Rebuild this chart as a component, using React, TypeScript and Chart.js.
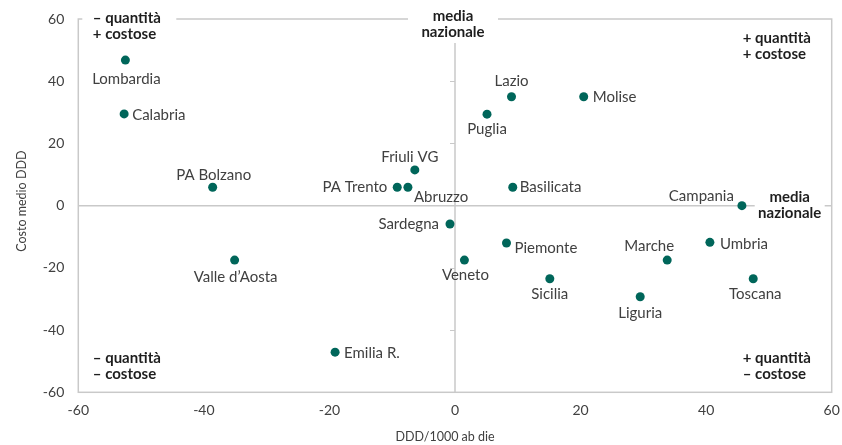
import React, { useEffect, useRef } from 'react';
import { Chart, registerables } from 'chart.js';

Chart.register(...registerables);

// ---- data ----
const regions = [
  'Lombardia', 'Calabria', 'PA Bolzano', 'Valle d’Aosta', 'Emilia R.', 'Friuli VG', 'PA Trento',
  'Abruzzo', 'Basilicata', 'Sardegna', 'Piemonte', 'Veneto', 'Sicilia', 'Campania', 'Umbria',
  'Marche', 'Toscana', 'Liguria', 'Lazio', 'Molise', 'Puglia',
];
const dddPer1000 = [
  -52.5, -52.7, -38.6, -35.1, -19.1, -6.4, -9.2,
  -7.5, 9.2, -0.8, 8.2, 1.5, 15.1, 45.7, 40.6,
  33.8, 47.5, 29.5, 9.0, 20.5, 5.1,
];
const costoMedio = [
  46.8, 29.5, 5.9, -17.5, -47.1, 11.5, 5.9,
  5.9, 5.9, -5.9, -12.0, -17.5, -23.5, 0.0, -11.8,
  -17.5, -23.5, -29.3, 35.0, 35.0, 29.4,
];
const axisMin = -60;
const axisMax = 60;
const tickStep = 20;
const xTitle = 'DDD/1000 ab die';
const yTitle = 'Costo medio DDD';

// label placement relative to each point: [textAlign, dx, dy]
const labelPlacement: Record<string, [CanvasTextAlign, number, number]> = {
  'Lombardia': ['center', 1, 19],
  'Calabria': ['left', 8, 1],
  'PA Bolzano': ['center', 1, -12],
  'Valle d’Aosta': ['center', 1, 17],
  'Emilia R.': ['left', 9, 1],
  'Friuli VG': ['center', -5, -13],
  'PA Trento': ['right', -10, 0],
  'Abruzzo': ['left', 6, 10],
  'Basilicata': ['left', 7, 0],
  'Sardegna': ['right', -11, 0],
  'Piemonte': ['left', 8, 5],
  'Veneto': ['center', 1, 15],
  'Sicilia': ['center', 0, 15],
  'Campania': ['right', -8, -9],
  'Umbria': ['left', 10, 2],
  'Marche': ['center', -18, -14],
  'Toscana': ['center', 2, 15],
  'Liguria': ['center', 0, 16],
  'Lazio': ['center', 0, -16],
  'Molise': ['left', 9, 0],
  'Puglia': ['center', 0, 15],
};

const FONT = 'Lato, "Open Sans", sans-serif';
const TEXT = '#404040';
const BOLD_TEXT = '#1e1e1e';
const LINE = '#c9c9c9';
const DOT = '#00665a';

const quadrantPlugin = {
  id: 'quadrants',
  beforeDatasetsDraw(chart: any) {
    const { ctx, chartArea: ca, scales } = chart;
    const xs = scales.x;
    const ys = scales.y;
    const x0 = xs.getPixelForValue(0);
    const y0 = ys.getPixelForValue(0);
    ctx.save();
    ctx.strokeStyle = LINE;
    ctx.lineWidth = 1.5;
    // frame
    ctx.strokeRect(ca.left, ca.top, ca.right - ca.left, ca.bottom - ca.top);
    // zero lines
    ctx.beginPath();
    ctx.moveTo(x0, ca.top);
    ctx.lineTo(x0, ca.bottom);
    ctx.moveTo(ca.left, y0);
    ctx.lineTo(ca.right, y0);
    ctx.stroke();
    // small tick marks on the vertical zero line
    ctx.lineWidth = 1;
    ctx.beginPath();
    for (let v = axisMin + tickStep; v < axisMax; v += tickStep) {
      if (v === 0) continue;
      const py = Math.round(ys.getPixelForValue(v)) + 0.5;
      ctx.moveTo(x0 - 5, py);
      ctx.lineTo(x0, py);
    }
    ctx.stroke();

    // white boxes behind annotations
    ctx.fillStyle = '#ffffff';
    ctx.fillRect(ca.left + 4, ca.top - 12, 94, 54);
    ctx.fillRect(x0 - 47, ca.top - 19, 90, 43);
    ctx.fillRect(ca.right - 77, y0 - 18, 70, 38);

    // annotation texts
    ctx.fillStyle = BOLD_TEXT;
    ctx.font = `bold 15px ${FONT}`;
    ctx.textBaseline = 'middle';
    const put = (lines: string[], align: CanvasTextAlign, x: number, y: number) => {
      ctx.textAlign = align;
      lines.forEach((t, i) => ctx.fillText(t, x, y + i * 16));
    };
    put(['– quantità', '+ costose'], 'left', ca.left + 14.5, ca.top - 0.5);
    put(['media', 'nazionale'], 'center', x0 - 2, ca.top - 3);
    put(['media', 'nazionale'], 'center', ca.right - 42, y0 - 8);
    put(['+ quantità', '+ costose'], 'left', ca.right - 89, ca.top + 19);
    put(['– quantità', '– costose'], 'left', ca.left + 14.5, ca.bottom - 34.5);
    put(['+ quantità', '– costose'], 'left', ca.right - 89, ca.bottom - 34.5);

    // axis titles (placed as in the original, slightly off the plot centre)
    ctx.fillStyle = TEXT;
    ctx.font = `12.5px ${FONT}`;
    ctx.textAlign = 'center';
    ctx.fillText(xTitle, (ca.left + ca.right) / 2 - 10, ca.bottom + 44.5);
    ctx.save();
    ctx.translate(21.7, (ca.top + ca.bottom) / 2 - 4.5);
    ctx.rotate(-Math.PI / 2);
    ctx.fillText(yTitle, 0, 0);
    ctx.restore();
    ctx.restore();
  },
  afterDatasetsDraw(chart: any) {
    const { ctx } = chart;
    const meta = chart.getDatasetMeta(0);
    ctx.save();
    ctx.fillStyle = TEXT;
    ctx.font = `15px ${FONT}`;
    ctx.textBaseline = 'middle';
    meta.data.forEach((el: any, i: number) => {
      const name = regions[i];
      const [align, dx, dy] = labelPlacement[name] || ['left', 8, 0];
      ctx.textAlign = align;
      ctx.fillText(name, el.x + dx, el.y + dy);
    });
    ctx.restore();
  },
};

export default function App() {
  const ref = useRef<HTMLCanvasElement | null>(null);
  useEffect(() => {
    if (!ref.current) return;
    const chart = new Chart(ref.current, {
      type: 'scatter',
      data: {
        datasets: [
          {
            label: 'Regioni',
            data: regions.map((_, i) => ({ x: dddPer1000[i], y: costoMedio[i] })),
            backgroundColor: DOT,
            borderWidth: 0,
            pointRadius: 4.5,
            pointHoverRadius: 4.5,
          },
        ],
      },
      options: {
        responsive: false,
        animation: false,
        events: [],
        layout: { autoPadding: false, padding: { top: 19, right: 10.3, left: 0, bottom: 0 } },
        plugins: { legend: { display: false }, tooltip: { enabled: false } },
        scales: {
          x: {
            type: 'linear',
            min: axisMin,
            max: axisMax,
            grid: { display: false, drawTicks: false },
            border: { display: false },
            ticks: { stepSize: tickStep, color: TEXT, font: { family: FONT, size: 14 }, padding: 10 },
            title: { display: false, text: xTitle },
            afterFit: (s: any) => {
              s.height = 52.7;
              s.paddingLeft = 0; s.paddingRight = 0; s.paddingTop = 0; s.paddingBottom = 0;
            },
          },
          y: {
            type: 'linear',
            min: axisMin,
            max: axisMax,
            grid: { display: false, drawTicks: false },
            border: { display: false },
            ticks: { stepSize: tickStep, color: TEXT, font: { family: FONT, size: 14 }, padding: 14 },
            title: { display: false, text: yTitle },
            afterFit: (s: any) => {
              s.width = 78.3;
              s.paddingLeft = 0; s.paddingRight = 0; s.paddingTop = 0; s.paddingBottom = 0;
            },
          },
        },
      },
      plugins: [quadrantPlugin],
    });
    return () => chart.destroy();
  }, []);
  return (
    <div style={{ position: 'absolute', left: 0, top: 0, width: 842, height: 445 }}>
      <canvas ref={ref} width={842} height={445} style={{ display: 'block' }} />
    </div>
  );
}
